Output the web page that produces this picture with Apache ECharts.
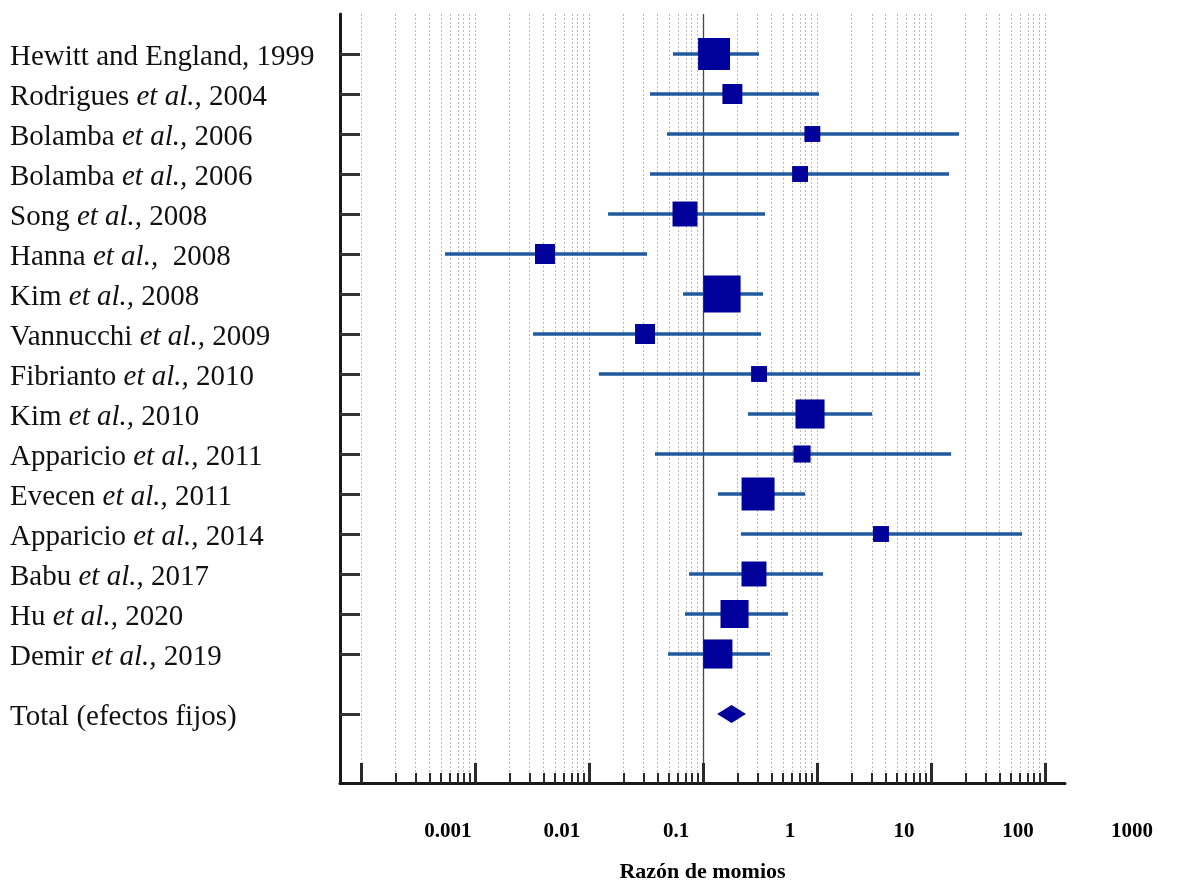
<!DOCTYPE html>
<html>
<head>
<meta charset="utf-8">
<script src="https://cdn.jsdelivr.net/npm/echarts@6/dist/echarts.min.js"></script>
<style>
html,body{margin:0;padding:0;background:#fff;}
#chart{width:1192px;height:896px;}
</style>
</head>
<body>
<div id="chart"></div>
<script>
// ---- data ----
const authors = ['Hewitt and England','Rodrigues','Bolamba','Bolamba','Song','Hanna','Kim','Vannucchi','Fibrianto','Kim','Apparicio','Evecen','Apparicio','Babu','Hu','Demir'];
const etAl = [false,true,true,true,true,true,true,true,true,true,true,true,true,true,true,true];
const years = ['1999','2004','2006','2006','2008',' 2008','2008','2009','2010','2010','2011','2011','2014','2017','2020','2019'];
const oddsRatio = [1.25,1.81,9.1,7.1,0.695,0.0411,1.47,0.310,3.10,8.68,7.39,3.04,36.4,2.80,1.89,1.35];
const ciLower = [0.545,0.343,0.483,0.343,0.147,0.00546,0.668,0.0323,0.122,2.48,0.379,1.35,2.15,0.754,0.695,0.493];
const ciUpper = [3.10,10.4,176,144,3.50,0.323,3.36,3.23,80,30.4,150,7.85,629,11.3,5.57,3.87];
const weights = [10.5,4.1,2.6,2.6,6.4,4.1,14.1,4.1,2.6,8.7,3.0,11.2,2.6,6.4,8.1,8.7];
const totalLabel = 'Total (efectos fijos)';
const totalOR = 1.78, totalLower = 1.33, totalUpper = 2.38;
const tickValues = [0.001,0.01,0.1,1,10,100,1000];
const tickLabels = ['0.001','0.01','0.1','1','10','100','1000'];
const axisTitle = 'Razón de momios';

// ---- derived ----
const L = Math.log10;
const totalRow = authors.length + 0.5;
const rowValues = authors.map((a,i)=>i).concat([totalRow]);
const majorLog = tickValues.map(L);
const minorLog = [];
for (let d = 0; d < majorLog.length - 1; d++) {
  for (let k = 2; k <= 9; k++) minorLog.push(majorLog[d] + L(k));
}
const gridLog = majorLog.concat(minorLog).filter(v => Math.abs(v) > 1e-9);

const serif = '"Liberation Serif", "Times New Roman", serif';

function rowLabel(v) {
  if (Math.abs(v - totalRow) < 1e-6) return '{n|' + totalLabel + '}';
  const i = Math.round(v);
  if (etAl[i]) return '{n|' + authors[i] + ' }{i|et al.,}{n| ' + years[i] + '}';
  return '{n|' + authors[i] + ', ' + years[i] + '}';
}

const chart = echarts.init(document.getElementById('chart'), null, {renderer:'canvas'});
const xMin = -3.184, xMax = 3.175;
const gridTop = 14, gridBottom = 113;
const gridH = 896 - gridTop - gridBottom;

const option = {
  backgroundColor: '#fff',
  animation: false,
  grid: {left: 340, right: 127, top: gridTop, bottom: gridBottom, containLabel: false},
  xAxis: [{
    type: 'value', min: xMin, max: xMax, position: 'bottom', z: 6,
    axisLine: {show: true, onZero: false, lineStyle: {color: '#1a1a1a', width: 3}},
    axisTick: {show: true, inside: true, length: 20, customValues: majorLog, lineStyle: {color: '#2a2a2a', width: 3}},
    axisLabel: {
      show: true, customValues: majorLog, margin: 38,
      padding: [0,0,0,174],
      fontFamily: serif, fontWeight: 'bold', fontSize: 21, color: '#000',
      formatter: function (v) {
        for (let j = 0; j < majorLog.length; j++) if (Math.abs(majorLog[j] - v) < 1e-6) return tickLabels[j];
        return '';
      }
    },
    splitLine: {show: false},
    name: axisTitle, nameLocation: 'middle', nameGap: 78,
    nameTextStyle: {fontFamily: serif, fontWeight: 'bold', fontSize: 22, color: '#000'}
  }, {
    // minor ticks: a top-positioned axis moved down onto the bottom edge
    type: 'value', min: xMin, max: xMax, position: 'top', offset: -gridH, z: 6,
    axisLine: {show: false},
    axisTick: {show: true, inside: false, length: 10, customValues: minorLog, lineStyle: {color: '#2a2a2a', width: 2}},
    axisLabel: {show: false},
    splitLine: {show: false}
  }],
  yAxis: {
    type: 'value', inverse: true, min: -1, max: 18.225, z: 6,
    axisLine: {show: true, onZero: false, lineStyle: {color: '#1a1a1a', width: 3}},
    axisTick: {show: true, inside: true, length: 20, customValues: rowValues, lineStyle: {color: '#333', width: 3}},
    axisLabel: {
      show: true, customValues: rowValues, align: 'left', margin: 330,
      formatter: rowLabel,
      rich: {
        n: {fontFamily: serif, fontSize: 29, color: '#111', padding: [6,0,0,0]},
        i: {fontFamily: serif, fontSize: 29, fontStyle: 'italic', color: '#111', padding: [6,0,0,0]}
      }
    },
    splitLine: {show: false}
  },
  series: [
    {
      // grid lines + null line
      type: 'line', data: [], silent: true, z: 1,
      markLine: {
        silent: true, z: 1, symbol: ['none','none'], label: {show: false}, animation: false,
        data: gridLog.map(v => ({xAxis: v, lineStyle: {color: '#b8b8b8', width: 1, type: [2,2]}}))
          .concat([{xAxis: 0, lineStyle: {color: '#3b4660', width: 1.3, type: 'solid'}}])
      }
    },
    {
      type: 'custom', z: 3,
      data: authors.map((a,i) => [L(ciLower[i]), L(ciUpper[i]), i]),
      renderItem: function (params, api) {
        const p1 = api.coord([api.value(0), api.value(2)]);
        const p2 = api.coord([api.value(1), api.value(2)]);
        return {type: 'line', shape: {x1: p1[0], y1: p1[1], x2: p2[0], y2: p2[1]},
          style: {stroke: '#1f5a9e', lineWidth: 3.5}};
      },
      encode: {x: [0,1], y: 2}
    },
    {
      type: 'scatter', z: 4, symbol: 'rect',
      data: authors.map((a,i) => [L(oddsRatio[i]), i, weights[i]]),
      symbolSize: function (val) { return 9.86 * Math.sqrt(val[2]); },
      itemStyle: {color: '#00009a', opacity: 1}
    },
    {
      type: 'custom', z: 4,
      data: [[L(totalLower), L(totalOR), L(totalUpper), totalRow]],
      renderItem: function (params, api) {
        const a = api.coord([api.value(0), api.value(3)]);
        const m = api.coord([api.value(1), api.value(3)]);
        const b = api.coord([api.value(2), api.value(3)]);
        return {type: 'polygon', shape: {points: [[a[0], a[1]], [m[0], m[1]-9], [b[0], b[1]], [m[0], m[1]+9]]},
          style: {fill: '#00009a'}};
      },
      encode: {x: [0,1,2], y: 3}
    }
  ]
};
chart.setOption(option);
</script>
</body>
</html>
